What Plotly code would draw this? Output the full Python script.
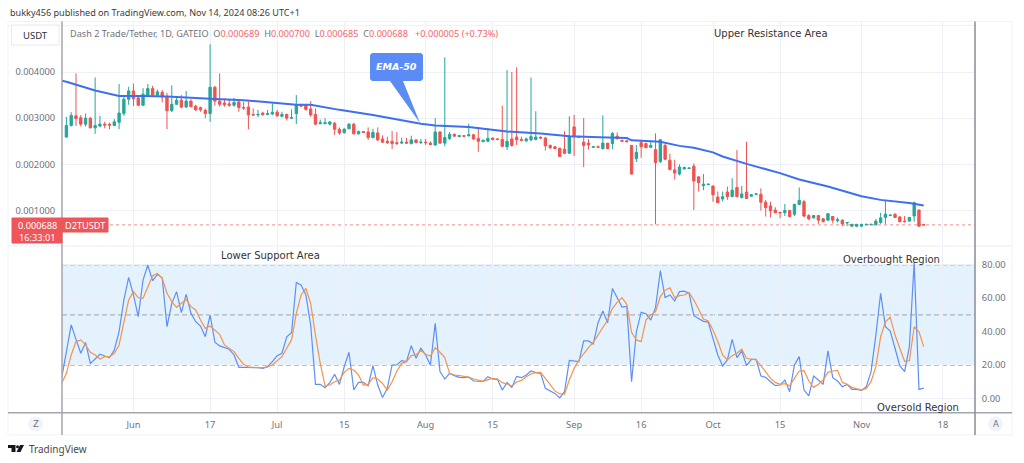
import numpy as np
import plotly.graph_objects as go

W = 1024
H = 463

# Daily candles of D2T/USDT, prices in thousandths of a USDT, one entry per bar
open_k = [2.59,2.84,3.05,3.01,2.87,3.0,2.79,2.83,2.87,2.87,
    2.84,2.91,3.1,3.41,3.59,3.44,3.28,3.5,3.64,3.5,
    3.56,3.47,3.16,3.3,3.39,3.24,3.37,3.26,3.23,3.17,
    3.1,3.67,3.37,3.33,3.31,3.28,3.35,3.23,3.24,3.08,
    3.07,3.11,3.08,3.09,3.13,3.04,3.08,3.0,3.1,3.29,
    3.28,3.2,3.08,2.88,2.88,2.87,2.89,2.76,2.69,2.77,
    2.87,2.66,2.71,2.7,2.58,2.68,2.55,2.5,2.5,2.47,
    2.46,2.48,2.45,2.53,2.47,2.48,2.46,2.42,2.7,2.46,
    2.56,2.65,2.6,2.62,2.62,2.64,2.56,2.49,2.5,2.57,
    2.55,2.54,2.38,2.55,2.59,2.54,2.51,2.53,2.54,2.59,
    2.57,2.41,2.38,2.35,2.33,2.24,2.81,2.6,2.48,2.46,
    2.37,2.38,2.34,2.46,2.45,2.61,2.52,2.51,2.41,2.12,
    2.47,2.45,2.37,2.32,2.06,2.41,2.09,1.88,1.79,1.90,
    1.91,1.96,1.73,1.54,1.56,1.53,1.29,1.25,1.4,1.3,
    1.5,1.28,1.4,1.31,1.35,1.35,1.18,1.1,1.01,0.96,
    0.95,1.0,0.92,1.13,1.19,0.89,0.84,0.89,0.82,0.79,
    0.87,0.78,0.79,0.73,0.66,0.66,0.66,0.69,0.69,0.69,
    0.74,0.85,0.89,0.92,0.86,0.77,0.77,0.88,1.01,0.689]
high_k = [3.03,3.13,3.97,3.07,3.1,3.02,3.88,3.05,2.92,2.9,
    2.98,3.74,3.47,3.68,3.75,3.5,3.65,3.74,3.7,3.62,
    3.61,3.55,3.71,3.47,3.5,3.59,3.41,3.29,3.25,3.21,
    4.6,3.7,3.97,3.43,3.39,3.44,3.39,3.35,3.36,3.21,
    3.18,3.14,3.18,3.32,3.18,3.14,3.1,3.19,3.5,3.31,
    3.31,3.37,3.21,2.97,3.0,2.92,2.92,2.8,2.79,2.89,
    2.9,2.73,2.71,2.8,2.77,2.8,2.63,2.6,2.72,2.7,
    2.58,2.57,2.62,2.53,2.55,2.55,2.5,3.0,2.72,4.32,
    2.7,2.67,2.63,2.63,2.88,2.66,2.81,2.54,2.78,2.58,
    2.56,3.27,4.04,4.0,4.1,2.6,2.58,3.88,3.15,2.6,
    2.59,2.43,2.4,2.36,2.72,3.04,3.07,2.62,3.0,2.55,
    2.4,2.41,3.06,2.46,2.7,2.69,2.53,2.52,2.42,2.42,
    2.53,2.47,2.51,2.67,2.55,2.45,2.23,2.1,2.0,1.95,
    1.93,2.02,1.73,1.79,1.58,1.54,1.41,1.41,1.52,1.7,
    2.31,1.53,2.49,1.36,1.37,1.48,1.23,1.19,1.07,0.97,
    1.14,1.01,1.15,1.5,1.23,0.92,0.9,0.9,0.84,0.94,
    0.88,0.85,0.81,0.75,0.71,0.71,0.71,0.71,0.71,0.82,
    0.95,1.21,0.91,0.94,0.88,0.88,0.86,1.19,1.02,0.70]
low_k = [2.585,2.82,2.83,2.82,2.82,2.78,2.66,2.8,2.78,2.76,
    2.83,2.76,3.05,3.29,3.26,3.26,3.26,3.48,3.48,3.48,
    3.34,2.76,3.13,3.29,3.21,3.23,3.23,3.15,3.14,3.0,
    2.92,3.27,3.25,3.25,3.25,3.25,3.14,3.18,2.76,3.05,
    3.02,3.05,3.07,3.07,3.03,3.02,2.95,2.98,2.87,3.25,
    3.16,3.03,2.85,2.87,2.87,2.85,2.64,2.64,2.66,2.76,
    2.65,2.65,2.68,2.53,2.56,2.5,2.46,2.44,2.33,2.42,
    2.44,2.44,2.43,2.46,2.44,2.42,2.41,2.4,2.44,2.39,
    2.53,2.6,2.59,2.59,2.6,2.53,2.27,2.48,2.48,2.52,
    2.52,2.37,2.31,2.38,2.42,2.5,2.48,2.5,2.52,2.55,
    2.3,2.33,2.33,2.16,2.22,2.22,2.18,2.58,1.94,2.32,
    2.36,2.35,2.32,2.33,2.33,2.53,2.49,2.48,1.78,2.05,
    2.14,2.35,2.36,0.70,2.03,2.09,1.87,1.67,1.76,1.89,
    1.9,1.01,1.41,1.44,1.55,1.19,1.16,1.2,1.23,1.29,
    1.29,1.26,1.25,1.3,1.34,1.0,0.87,0.85,0.94,0.83,
    0.88,0.85,0.88,1.12,0.85,0.79,0.83,0.71,0.74,0.78,
    0.72,0.74,0.66,0.66,0.65,0.65,0.65,0.68,0.68,0.68,
    0.71,0.71,0.88,0.84,0.74,0.74,0.76,0.76,0.65,0.685]
close_k = [2.84,3.06,2.99,2.87,3.0,2.79,2.84,2.87,2.85,2.85,
    2.92,3.11,3.41,3.59,3.42,3.28,3.52,3.64,3.5,3.57,
    3.46,3.16,3.3,3.39,3.24,3.37,3.25,3.18,3.18,3.1,
    3.67,3.37,3.3,3.29,3.28,3.34,3.23,3.22,3.07,3.07,
    3.08,3.08,3.1,3.13,3.05,3.08,3.0,3.01,3.29,3.26,
    3.19,3.07,2.87,2.9,2.9,2.92,2.76,2.68,2.76,2.87,
    2.66,2.71,2.69,2.58,2.69,2.53,2.48,2.47,2.45,2.45,
    2.48,2.46,2.53,2.47,2.48,2.47,2.43,2.7,2.46,2.58,
    2.65,2.61,2.62,2.61,2.64,2.55,2.5,2.52,2.56,2.54,
    2.54,2.39,2.5,2.41,2.53,2.52,2.55,2.6,2.59,2.57,
    2.4,2.36,2.34,2.17,2.24,2.61,2.6,2.59,2.41,2.42,
    2.38,2.37,2.46,2.34,2.67,2.56,2.5,2.49,1.79,2.26,
    2.38,2.36,2.41,2.04,2.53,2.11,1.89,1.81,1.94,1.93,
    1.92,1.64,1.6,1.57,1.57,1.34,1.17,1.3,1.3,1.44,
    1.3,1.36,1.26,1.34,1.36,1.18,1.06,0.99,0.95,0.95,
    1.0,0.87,1.13,1.22,0.88,0.82,0.89,0.79,0.76,0.93,
    0.79,0.8,0.71,0.74,0.7,0.7,0.7,0.7,0.7,0.77,
    0.84,0.92,0.9,0.85,0.76,0.76,0.85,1.17,0.66,0.688]

# EMA-50, read at the bars where the curve bends
ema_bar = [-1,0,6,11,16,21,30,37,48,51,57,64,74,77,84,92,99,105,113,117,118,124,128,131,135,137,142,149,153,159,166,170,176,179]
ema_k = [3.81,3.79,3.6,3.48,3.48,3.47,3.42,3.39,3.29,3.29,3.18,3.07,2.88,2.84,2.81,2.71,2.67,2.61,2.58,2.57,2.52,2.49,2.40,2.36,2.26,2.17,2.01,1.81,1.67,1.52,1.31,1.23,1.16,1.11]

# Stochastic lines of the lower pane, first entry is the bar before the first candle
stoch_k = [12,28,44,35.3,27,33.4,21,23.6,26.4,25.4,24.4,29,40,58.9,72.4,61.9,48.9,70.8,79.8,70.4,74.2,72.2,
    42.9,56.9,63.9,51.3,62.3,50.9,45.9,43.3,36.9,49.9,33.6,31.4,30.4,29.4,26,18.6,18.6,18.6,18.4,18.4,18,19,22,25.6,27,
    36.9,39.3,69.4,67.8,61.9,43.9,8.4,8.4,6.4,9.4,14.4,8.4,19,27.6,5.1,9.6,9.6,7.6,19.6,8,0.5,6,20,20,22.6,22,31.6,24,30,
    26,20,44.9,16,11.6,15,13.6,12.6,12.4,12.8,10.4,10.4,10.2,13,11.6,11.4,5,9.6,6.6,13.2,12.4,14,16.4,15.4,15,6,4.5,3,0.3,4,
    22.8,22.4,22,34.4,34.4,32.6,45.3,52.3,45.3,65.8,59.9,54.7,55.1,10,39.9,51.5,50.7,46.9,54.3,76.4,60.3,61.9,58.3,63.9,
    64.2,62.9,49.5,47.9,46.1,45.7,35.9,26,19.4,23,35.3,24.4,28.4,19.6,23.4,23.4,13.4,12.6,10,7.6,8,11,4,20,25,5,1.5,13.4,11,8.4,
    28.4,12.4,10.4,7,8.4,5.4,5.4,4.8,7,16,37.9,62.9,42.9,40.3,30,19.6,16,31,81.4,5.4,6.2]
stoch_d = [9,15,26,34,35,32,27.6,26,23.6,25,25,27,32,44.9,58.9,63.9,60.3,59.9,66.8,73.4,74.8,71.8,
    62.9,57.9,54.5,56.9,59.3,54.9,52.9,46.9,41.9,43.3,40.9,38.3,32,30,28,24,20.4,18.8,18.4,18.4,18.4,18.8,20,22.4,25,
    30,35,50.9,61.9,65.8,56.9,37.9,21,7.4,8,10,11,15.6,18,17,14,8,8.4,12.4,11.6,9,5,10,16.4,21,22,25.6,26,28.6,
    26.4,25.4,30.4,27.6,24.4,15,14,13.6,13.2,12.8,11.6,11,10.2,11.2,12,11.6,9.4,8.6,7.4,9.8,10.8,13,14.6,15.4,15.6,12,8,4.5,2.7,2.5,
    11,18,23,27,30.4,33.6,37.9,42.9,46.9,53.9,57.5,60.3,56.3,39.5,35,34,46.9,49.9,51.9,60.9,64.8,66.2,60.3,61.5,
    61.9,63.3,58.9,53.3,47.5,46.3,40.9,34,26,23,25.6,27,29.4,24,23.6,23,19.6,15.6,12,9.6,8.4,8.8,7.6,12,16.4,16.6,10.4,6.6,8.4,11,
    15.6,16.4,16.8,9.6,8.4,6.6,6,5,6,10,19,36.9,45.9,48.7,37.9,30,22.2,22.6,42.9,39.9,31]

price_ticks = [0.001, 0.002, 0.003, 0.004]
stoch_ticks = [0, 20, 40, 60, 80]
date_bars = [14, 30, 44, 58, 75, 89, 106, 120, 135, 149, 166, 183]
date_labels = ["Jun", "17", "Jul", "15", "Aug", "15", "Sep", "16", "Oct", "15", "Nov", "18"]
last_price = 0.000688
band_levels = [20, 50, 80]
band_colors = ["#85888f", "#b0b3bb", "#85888f"]

UP = "#26a69a"
DOWN = "#ef5350"
GRID = "#edf1f7"
EDGE = "#f0f3fa"
AXIS = "#a3a6af"
TEXT = "#333333"
MUTED = "#6f727c"
FONT = "DejaVu Sans"
SMALL = "Noto Sans"

bars = np.arange(len(open_k))
line_bars = np.arange(-1, len(open_k))


def px(x):
    return x / W


def py(y):
    return 1 - y / H


def path_shape(d, fill, layer="above"):
    return dict(type="path", path=d, xref="paper", yref="paper", fillcolor=fill,
                line=dict(width=0), layer=layer)


def pts(*pairs):
    # turns pixel corners into an svg path in paper units
    out = []
    for n, (a, b) in enumerate(pairs):
        out.append(("M" if n == 0 else "L") + f"{px(a)},{py(b)}")
    return " ".join(out) + " Z"


def rule(x0, y0, x1, y1, color, width=1, dash="solid"):
    return dict(type="line", xref="paper", yref="paper", x0=px(x0), y0=py(y0), x1=px(x1), y1=py(y1),
                line=dict(color=color, width=width, dash=dash), layer="above")


def box(x0, y0, x1, y1, fill, border=None):
    return dict(type="rect", xref="paper", yref="paper", x0=px(x0), y0=py(y0), x1=px(x1), y1=py(y1),
                fillcolor=fill, line=dict(color=border or fill, width=1), layer="above")


def label(x, y, text, size=10, color=TEXT, anchor="center", family=FONT, **kw):
    return dict(xref="paper", yref="paper", x=px(x), y=py(y), text=text, showarrow=False,
                xanchor=anchor, yanchor="middle", font=dict(size=size, color=color, family=family), **kw)


fig = go.Figure()
fig.add_trace(go.Candlestick(
    x=bars, open=np.array(open_k) * 0.001, high=np.array(high_k) * 0.001,
    low=np.array(low_k) * 0.001, close=np.array(close_k) * 0.001,
    increasing=dict(line=dict(color=UP, width=1), fillcolor=UP),
    decreasing=dict(line=dict(color=DOWN, width=1), fillcolor=DOWN),
    whiskerwidth=0, xaxis="x", yaxis="y", showlegend=False))
fig.add_trace(go.Scatter(x=ema_bar, y=np.array(ema_k) * 0.001, mode="lines",
                         line=dict(color="#3d6ff0", width=2), xaxis="x", yaxis="y", showlegend=False))
fig.add_trace(go.Scatter(x=line_bars, y=stoch_k, mode="lines",
                         line=dict(color="#5e8ff5", width=1.2), xaxis="x2", yaxis="y2", showlegend=False))
fig.add_trace(go.Scatter(x=line_bars, y=stoch_d, mode="lines",
                         line=dict(color="#f5934a", width=1.2), xaxis="x2", yaxis="y2", showlegend=False))

shapes = [
    dict(type="rect", xref="x2 domain", yref="y2", x0=0, x1=1, y0=band_levels[0], y1=band_levels[-1],
         fillcolor="rgba(33,150,243,0.12)", line=dict(width=0), layer="below"),
    dict(type="line", xref="x domain", yref="y", x0=0, x1=1, y0=last_price, y1=last_price,
         line=dict(color="#f08a8a", width=1, dash="dot"), layer="below"),
]
for lvl, col in zip(band_levels, band_colors):
    shapes.append(dict(type="line", xref="x2 domain", yref="y2", x0=0, x1=1, y0=lvl, y1=lvl,
                       line=dict(color=col, width=1.2, dash="5px,3px"), layer="below"))

# frame of the TradingView widget
shapes += [
    rule(8, 21.5, 1012, 21.5, EDGE), rule(8, 25.5, 975, 25.5, EDGE),
    rule(8, 435, 1012, 435, EDGE), rule(8, 21.5, 8, 435, EDGE), rule(1012, 21.5, 1012, 435, EDGE),
    rule(8, 246, 1012, 246, EDGE, 1.5),
    rule(8, 412.7, 1012, 412.7, AXIS, 1.5),
    rule(62, 21.5, 62, 435, AXIS, 1.5), rule(975, 21.5, 975, 435, "#8a8d96", 1.5),
]
# USDT button
shapes.append(box(11.5, 25, 59, 45, "white", "#e6e9f0"))
# last price tags
shapes.append(box(12, 218, 62, 243, "#f0555a"))
shapes.append(box(62, 218, 108, 232, "#f0555a"))
# EMA-50 speech bubble
shapes.append(path_shape(pts((370, 55), (372, 53), (421, 53), (423, 55), (423, 79), (421, 81), (403, 81), (420, 123),
                             (390, 81), (372, 81), (370, 79)), "#5b8cf5"))
# axis badges
shapes.append(dict(type="circle", xref="paper", yref="paper", x0=px(28), x1=px(43), y0=py(431.5), y1=py(416.5),
                   fillcolor=EDGE, line=dict(width=0), layer="above"))
shapes.append(dict(type="circle", xref="paper", yref="paper", x0=px(988), x1=px(1003), y0=py(431.5), y1=py(416.5),
                   fillcolor=EDGE, line=dict(width=0), layer="above"))
# TradingView logo
shapes.append(path_shape(pts((8, 445), (15.5, 445), (15.5, 452), (11.5, 452), (11.5, 448), (8, 448)), "#131722"))
shapes.append(dict(type="circle", xref="paper", yref="paper", x0=px(16), x1=px(19), y0=py(448.2), y1=py(445.2),
                   fillcolor="#131722", line=dict(width=0), layer="above"))
shapes.append(path_shape(pts((20, 445), (24, 445), (20.5, 452), (16.5, 452)), "#131722"))

legend_text = (
    f'<span style="color:{MUTED}">Dash 2 Trade/Tether, 1D, GATEIO  O</span>0.000689'
    f'  <span style="color:{MUTED}">H</span>0.000700  <span style="color:{MUTED}">L</span>0.000685'
    f'  <span style="color:{MUTED}">C</span>0.000688   +0.000005 (+0.73%)'
)
annotations = [
    label(8, 12, "bukky456 published on TradingView.com, Nov 14, 2024 08:26 UTC+1", 9.1, "#3a3a3a", "left", SMALL),
    label(68, 33.5, legend_text, 9.15, "#f7636c", "left", SMALL),
    label(35, 35, "USDT", 9.5, "#2a2e39", family=SMALL),
    label(37, 225, "0.000688", 9.2, "white", family=SMALL),
    label(37, 237, "16:33:01", 9.2, "white", family=SMALL),
    label(85, 225, "D2TUSDT", 9.2, "white", family=SMALL),
    label(396.5, 67, "<b><i>EMA-50</i></b>", 9.5, "white"),
    label(771, 34, "Upper Resistance Area", 10),
    label(270, 255, "Lower Support Area", 10),
    label(891, 259, "Overbought Region", 10),
    label(918, 407, "Oversold Region", 10),
    label(35.5, 424, "Z", 8.5, MUTED),
    label(995.5, 424, "A", 8.5, MUTED),
    label(27, 449, "TradingView", 10, "#4a4a4a", "left", SMALL),
]

x_range = [-0.92, 189.7]
x_common = dict(range=x_range, domain=[px(62), px(975)], tickvals=date_bars, showgrid=True, gridcolor=GRID,
                gridwidth=1, zeroline=False, showline=False, fixedrange=True)
tick_font = dict(size=9.3, color=MUTED, family=SMALL)

fig.update_layout(
    width=W, height=H, margin=dict(l=0, r=0, t=0, b=0), paper_bgcolor="white", plot_bgcolor="white",
    showlegend=False, font=dict(family=SMALL, size=9.3, color=MUTED), shapes=shapes, annotations=annotations,
    xaxis=dict(x_common, anchor="y", showticklabels=False, rangeslider=dict(visible=False)),
    xaxis2=dict(x_common, anchor="y2", ticktext=date_labels, showticklabels=True, ticks="outside", ticklen=3,
                tickcolor="rgba(0,0,0,0)", tickfont=tick_font),
    yaxis=dict(domain=[py(246), py(21.5)], range=[0.000231, 0.005094], tickvals=price_ticks,
               tickformat=".6f", side="left", anchor="x", showgrid=True, gridcolor=GRID, zeroline=False,
               ticks="outside", ticklen=4, tickcolor="rgba(0,0,0,0)", tickfont=tick_font),
    yaxis2=dict(domain=[py(412.7), py(246)], range=[-8.55, 91.2], tickvals=stoch_ticks, tickformat=".2f",
                side="right", anchor="x2", showgrid=True, gridcolor=GRID, zeroline=False,
                ticks="outside", ticklen=4, tickcolor="rgba(0,0,0,0)", tickfont=tick_font),
)

fig.write_html("out.html", config={"displayModeBar": False}, post_script="document.body.style.margin='0';")
